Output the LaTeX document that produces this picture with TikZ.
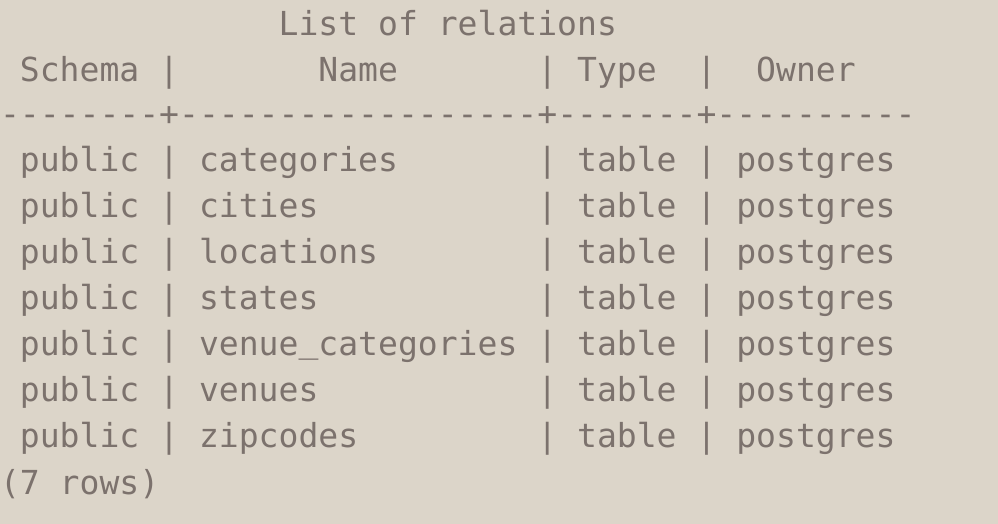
\documentclass[tikz,border=0pt]{standalone}
\usepackage{fontspec}
\setmonofont{DejaVu Sans Mono}
\definecolor{termbg}{RGB}{220,213,201}
\definecolor{termfg}{RGB}{124,114,109}
\newcommand{\usc}{\raisebox{0.1em}{\_}}
\begin{document}
\begin{tikzpicture}[x=19.9pt,y=-1pt,
  t/.style={anchor=base west,inner sep=0pt,outer sep=0pt,text=termfg,
    font=\fontsize{33.06}{40}\selectfont\ttfamily}]
\fill[termbg] (0,0) rectangle (50.151,524);
\useasboundingbox (0,0) rectangle (50.151,524);
% title
\node[t] (title) at (14,36) {List of relations};
% header
\node[t] (hSchema) at (1,82) {Schema};
\node[t] (hs1) at (8,82) {|};
\node[t] (hName) at (16,82) {Name};
\node[t] (hs2) at (27,82) {|};
\node[t] (hType) at (29,82) {Type};
\node[t] (hs3) at (35,82) {|};
\node[t] (hOwner) at (38,82) {Owner};
% rule
\node[t] (rule) at (0,126) {--------+------------------+-------+----------};
% rows
\foreach \nm [count=\i] in {categories,cities,locations,states,venue\usc categories,venues,zipcodes}{
  \pgfmathsetmacro{\yb}{172+46*(\i-1)}
  \node[t] (sch\i) at (1,\yb) {public};
  \node[t] (sa\i) at (8,\yb) {|};
  \node[t] (nm\i) at (10,\yb) {\nm};
  \node[t] (sb\i) at (27,\yb) {|};
  \node[t] (ty\i) at (29,\yb) {table};
  \node[t] (sc\i) at (35,\yb) {|};
  \node[t] (ow\i) at (37,\yb) {postgres};
}
\node[t] (footer) at (0,494) {(7 rows)};
\end{tikzpicture}
\end{document}
